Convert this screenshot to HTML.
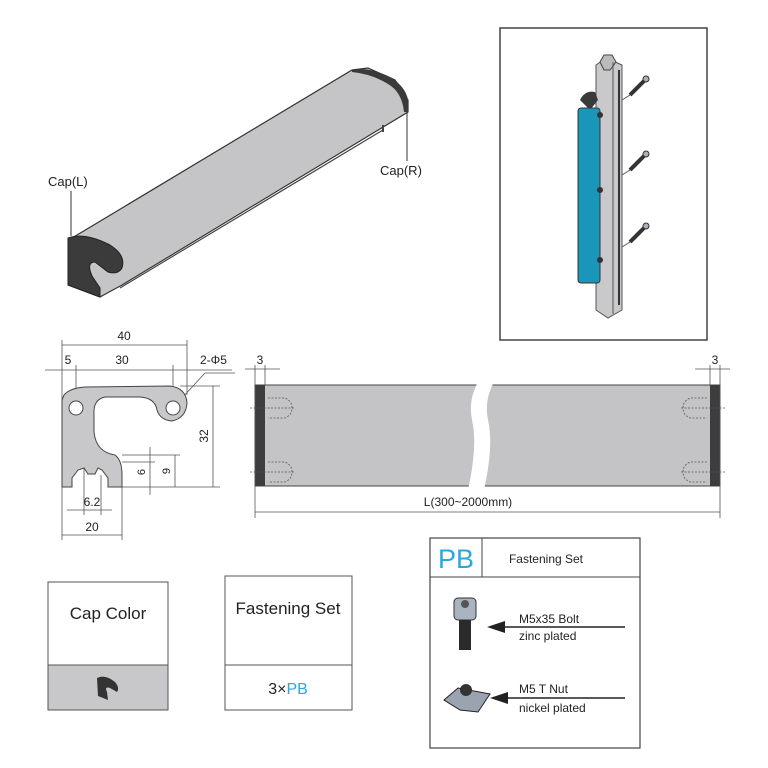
<!DOCTYPE html>
<html><head><meta charset="utf-8"><style>
body{margin:0;background:#fff}
svg{display:block}
text{font-family:"Liberation Sans",Arial,sans-serif;fill:#222}
</style></head><body>
<svg width="768" height="768" viewBox="0 0 768 768" xmlns="http://www.w3.org/2000/svg">
<!-- top-left handle -->
<polygon points="72,238 352,70 368,68 395,80 408,100 408,112 122,285 100,297 68,285" fill="#c5c5c7" stroke="#333" stroke-width="1.2"/>
<line x1="120" y1="288" x2="383" y2="130" stroke="#444" stroke-width="1.2"/>
<line x1="383" y1="125" x2="383" y2="132" stroke="#444" stroke-width="2"/>
<path d="M352,70 Q368,66 392,78 Q406,88 408,100 L408,112 L404,112 Q402,92 388,84 Q372,74 352,72 Z" fill="#3a3a3a"/>
<path d="M68,238 Q85,232 110,245 Q126,255 122,268 Q118,275 108,272 L95,262 Q86,262 92,276 L100,288 L100,297 L68,285 Z" fill="#3b3b3b" stroke="#222" stroke-width="1"/>
<text x="48" y="186" font-size="13">Cap(L)</text>
<line x1="71" y1="191" x2="71" y2="236" stroke="#333"/>
<text x="380" y="175" font-size="13">Cap(R)</text>
<line x1="407" y1="112" x2="407" y2="161" stroke="#333"/>

<!-- right picture box -->
<rect x="500" y="28" width="207" height="312" fill="#fff" stroke="#444" stroke-width="1.5"/>
<polygon points="596,65 606,58 622,65 622,310 608,318 596,310" fill="#c9c9cc" stroke="#555"/>
<path d="M600,62 L604,55 L612,55 L616,62 L610,70 L604,70 Z" fill="#bbb" stroke="#444"/>
<line x1="613" y1="62" x2="613" y2="314" stroke="#555"/>
<line x1="619" y1="70" x2="619" y2="305" stroke="#333" stroke-width="2"/>
<path d="M580,100 Q585,90 595,92 L598,100 L590,110 Z" fill="#3a3a3a"/>
<rect x="578" y="108" width="22" height="175" rx="3" fill="#1a96bb" stroke="#333"/>
<circle cx="600" cy="115" r="3" fill="#333"/>
<circle cx="600" cy="190" r="3" fill="#333"/><circle cx="600" cy="260" r="3" fill="#333"/>
<g stroke="#333" stroke-width="4"><line x1="630" y1="95" x2="645" y2="80"/><line x1="630" y1="170" x2="645" y2="155"/><line x1="630" y1="242" x2="645" y2="227"/></g>
<g fill="#aab0ba" stroke="#333"><circle cx="646" cy="79" r="3"/><circle cx="646" cy="154" r="3"/><circle cx="646" cy="226" r="3"/></g>
<g stroke="#555" stroke-width="1"><line x1="622" y1="100" x2="630" y2="95"/><line x1="622" y1="175" x2="630" y2="170"/><line x1="622" y1="247" x2="630" y2="242"/></g>

<!-- cross-section -->
<g stroke="#555" stroke-width="0.8" fill="none">
<line x1="62" y1="340" x2="62" y2="540"/><line x1="187" y1="340" x2="187" y2="395"/>
<line x1="62" y1="345" x2="187" y2="345"/>
<line x1="45" y1="370" x2="232" y2="370"/>
<line x1="76" y1="365" x2="76" y2="420"/><line x1="173" y1="365" x2="173" y2="420"/>
<line x1="180" y1="386" x2="220" y2="386"/><line x1="122" y1="487" x2="220" y2="487"/>
<line x1="213" y1="386" x2="213" y2="487"/>
<line x1="122" y1="455" x2="180" y2="455"/><line x1="122" y1="462" x2="155" y2="462"/>
<line x1="150" y1="447" x2="150" y2="495"/><line x1="175" y1="455" x2="175" y2="487"/>
<line x1="84" y1="448" x2="84" y2="515"/><line x1="101" y1="475" x2="101" y2="515"/>
<line x1="67" y1="510" x2="112" y2="510"/>
<line x1="122" y1="487" x2="122" y2="540"/>
<line x1="62" y1="535" x2="122" y2="535"/>
<line x1="182" y1="398" x2="205" y2="373"/><line x1="205" y1="373" x2="235" y2="373"/>
</g>
<path d="M64,395 Q70,388 85,387 L170,386 Q186,388 187,403 Q186,418 172,421 Q160,420 157,410 Q155,398 140,397 L105,397 Q95,399 94,410 L94,432 Q96,452 115,455 Q122,460 122,475 L122,487 L108,487 L108,478 L102,470 L98,468 L95,474 L88,474 L84,468 L78,470 L72,478 L72,487 L62,487 L62,400 Z" fill="#c8c8ca" stroke="#444" stroke-width="1"/>
<circle cx="76" cy="408" r="7" fill="#fff" stroke="#444"/><circle cx="173" cy="408" r="7" fill="#fff" stroke="#444"/>
<text x="124" y="340" font-size="12" text-anchor="middle">40</text>
<text x="68" y="364" font-size="12" text-anchor="middle">5</text>
<text x="122" y="364" font-size="12" text-anchor="middle">30</text>
<text x="200" y="364" font-size="12">2-Φ5</text>
<text x="0" y="0" font-size="12" transform="translate(208,436) rotate(-90)" text-anchor="middle">32</text>
<text x="0" y="0" font-size="11" transform="translate(145,472) rotate(-90)" text-anchor="middle">6</text>
<text x="0" y="0" font-size="11" transform="translate(170,471) rotate(-90)" text-anchor="middle">9</text>
<text x="92" y="506" font-size="12" text-anchor="middle">6.2</text>
<text x="92" y="531" font-size="12" text-anchor="middle">20</text>

<!-- long bar -->
<rect x="255" y="385" width="465" height="101" fill="#c4c4c6" stroke="#444"/>
<path d="M478,382 Q468,400 472,420 Q478,445 468,490 L484,490 Q494,445 488,420 Q484,400 494,382 Z" fill="#fff"/>
<rect x="255" y="385" width="10" height="101" fill="#3d3d3d"/>
<rect x="710" y="385" width="10" height="101" fill="#3d3d3d"/>
<g stroke="#555" stroke-width="0.8" stroke-dasharray="2,1.5" fill="none">
<path d="M268,398 L285,398 Q292,401 292,408 Q292,415 285,418 L268,418 M250,408 L295,408"/>
<path d="M268,462 L285,462 Q292,465 292,472 Q292,479 285,482 L268,482 M250,472 L295,472"/>
<path d="M707,398 L690,398 Q683,401 683,408 Q683,415 690,418 L707,418 M725,408 L680,408"/>
<path d="M707,462 L690,462 Q683,465 683,472 Q683,479 690,482 L707,482 M725,472 L680,472"/>
</g>
<g stroke="#555" stroke-width="0.8">
<line x1="255" y1="365" x2="255" y2="518"/><line x1="265" y1="365" x2="265" y2="385"/>
<line x1="710" y1="365" x2="710" y2="385"/><line x1="720" y1="365" x2="720" y2="518"/>
<line x1="245" y1="369" x2="280" y2="369"/><line x1="695" y1="369" x2="730" y2="369"/>
<line x1="255" y1="512" x2="720" y2="512"/>
</g>
<text x="260" y="364" font-size="12" text-anchor="middle">3</text>
<text x="715" y="364" font-size="12" text-anchor="middle">3</text>
<text x="468" y="506" font-size="12" text-anchor="middle">L(300~2000mm)</text>

<!-- Cap Color -->
<rect x="48" y="582" width="120" height="128" fill="#fff" stroke="#555"/>
<rect x="48" y="665" width="120" height="45" fill="#c8c8ca" stroke="#555"/>
<text x="108" y="619" font-size="17" text-anchor="middle">Cap Color</text>
<path d="M97,678 Q105,674 115,682 Q120,688 117,692 L110,688 Q104,686 107,692 L108,700 L98,696 Z" fill="#333"/>
<!-- Fastening Set -->
<rect x="225" y="576" width="127" height="134" fill="#fff" stroke="#555"/>
<line x1="225" y1="665" x2="352" y2="665" stroke="#555"/>
<text x="288" y="614" font-size="17" text-anchor="middle">Fastening Set</text>
<text x="288" y="694" font-size="16" text-anchor="middle">3×<tspan fill="#29a8e0">PB</tspan></text>
<!-- PB box -->
<rect x="430" y="538" width="210" height="210" fill="#fff" stroke="#444" stroke-width="1.2"/>
<line x1="430" y1="577" x2="640" y2="577" stroke="#444"/>
<line x1="482" y1="538" x2="482" y2="577" stroke="#444"/>
<text x="456" y="568" font-size="27" text-anchor="middle" style="fill:#29a8e0">PB</text>
<text x="546" y="563" font-size="12" text-anchor="middle">Fastening Set</text>
<rect x="454" y="598" width="22" height="22" rx="4" fill="#aab3c0" stroke="#333"/>
<circle cx="465" cy="604" r="4" fill="#555"/>
<rect x="459" y="620" width="12" height="30" fill="#2a2a2a"/>
<polygon points="487,627 505,621 505,633" fill="#222"/>
<line x1="505" y1="627" x2="625" y2="627" stroke="#222" stroke-width="1.5"/>
<text x="519" y="623" font-size="12">M5x35 Bolt</text>
<text x="519" y="640" font-size="12">zinc plated</text>
<polygon points="444,700 458,688 490,694 478,712 460,710" fill="#9aa3b0" stroke="#222"/>
<circle cx="466" cy="690" r="6" fill="#333"/>
<polygon points="490,698 508,692 508,704" fill="#222"/>
<line x1="508" y1="698" x2="625" y2="698" stroke="#222" stroke-width="1.5"/>
<text x="519" y="693" font-size="12">M5 T Nut</text>
<text x="519" y="712" font-size="12">nickel plated</text>
</svg>
</body></html>
